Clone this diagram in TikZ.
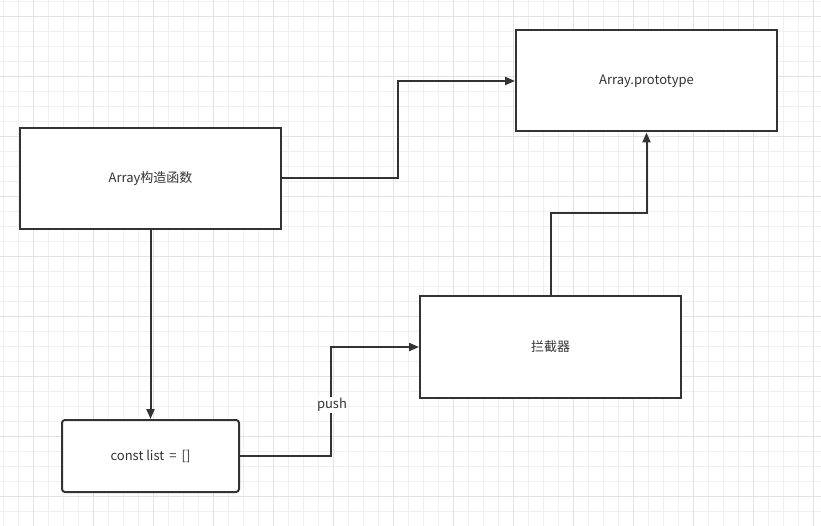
\documentclass[tikz,border=0pt]{standalone}
\usepackage{fontspec}
\setmainfont{Noto Sans CJK SC}
\usetikzlibrary{arrows.meta}
\definecolor{minorgrid}{HTML}{F0F0F0}
\definecolor{majorgrid}{HTML}{E3E3E3}
\definecolor{ink}{HTML}{333333}
\begin{document}
\begin{tikzpicture}[x=1pt,y=-1pt,
  box/.style={draw=ink, line width=2pt, fill=white, minimum width=261pt, minimum height=101pt, inner sep=0pt, text=ink, font=\fontsize{13}{15}\selectfont},
  roundbox/.style={box, minimum width=177pt, minimum height=72pt, rounded corners=3pt},
  conn/.style={draw=ink, line width=2pt, -{Triangle[length=10pt,width=8pt]}},
  lbl/.style={fill=white, text=ink, inner sep=1pt, font=\fontsize{13}{15}\selectfont}
]
\fill[white] (0,0) rectangle (821,526);
\useasboundingbox (0,0) rectangle (821,526);
\foreach \i in {0,...,54} {
  \draw[minorgrid, line width=1pt] (3.3+15*\i,0) -- (3.3+15*\i,526);
}
\foreach \i in {0,...,35} {
  \draw[minorgrid, line width=1pt] (0,1.7+15*\i) -- (821,1.7+15*\i);
}
\foreach \i in {0,...,13} {
  \draw[majorgrid, line width=1pt] (33.3+60*\i,0) -- (33.3+60*\i,526);
}
\foreach \i in {0,...,8} {
  \draw[majorgrid, line width=1pt] (0,16.7+60*\i) -- (821,16.7+60*\i);
}

\node[box] (ctor) at (150.5,178.5) {Array构造函数};
\node[box] (proto) at (646.5,81) {Array.prototype};
\node[box] (icpt) at (550.5,347) {拦截器};
\node[roundbox] (list) at (150.5,456) {const list \,=\, []};

\coordinate (c1) at (398,178.5);
\coordinate (c2) at (331,456);
\draw[conn] (ctor.east) -- (c1) |- (proto.west);
\draw[conn] (ctor.south) -- (list.north);
\draw[conn] (list.east) -- (c2) |- (icpt.west);
\draw[conn] (icpt.north) -- ++(0,-82) -| (proto.south);
\node[lbl] (push) at (332,405) {push};
\end{tikzpicture}
\end{document}
